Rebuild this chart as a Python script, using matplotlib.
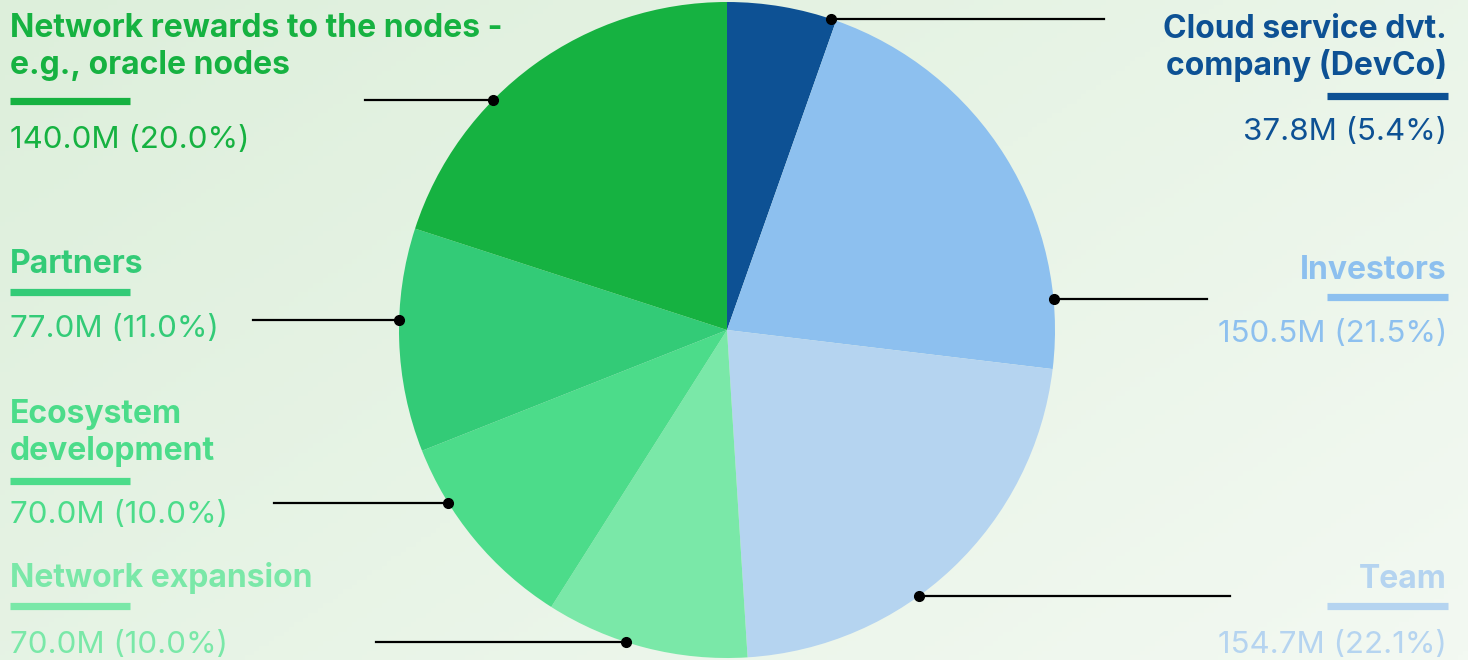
import numpy as np
import matplotlib
matplotlib.use("Agg")
import matplotlib.pyplot as plt
from matplotlib.colors import LinearSegmentedColormap

# token allocation, clockwise from 12 o'clock
labels = ["Cloud service dvt.\ncompany (DevCo)", "Investors", "Team",
          "Network expansion", "Ecosystem\ndevelopment", "Partners",
          "Network rewards to the nodes -\ne.g., oracle nodes"]
amounts = [37.8, 150.5, 154.7, 70.0, 70.0, 77.0, 140.0]   # millions
shares = [5.4, 21.5, 22.1, 10.0, 10.0, 11.0, 20.0]        # percent
colors = ["#0d5194", "#8dc0ef", "#b5d4f0", "#7ae8a8", "#4cdc8a", "#33cb77", "#16b241"]

# label layout (pixels, y from top): side, first title baseline, bar y, value baseline, leader y, leader end x
sides = ["R", "R", "R", "L", "L", "L", "L"]
title_y = [38, 279, 588, 587, 423, 273, 37]
bar_y = [96, 297, 606, 606, 481, 292, 101]
value_y = [140, 342, 653, 653, 523, 337, 148]
leader_y = [19, 299, 596, 642, 503, 320, 100]
leader_x = [1104, 1207, 1230, 376, 274, 253, 365]

W, H = 1468, 660
CX, CY, R = 727, 330, 328

fig = plt.figure(figsize=(W / 100, H / 100), dpi=100)
ax = fig.add_axes([0, 0, 1, 1])
ax.set_xlim(0, W)
ax.set_ylim(H, 0)
ax.axis("off")

# soft diagonal background gradient
gx, gy = np.meshgrid(np.linspace(0, 1, 300), np.linspace(0, 1, 140))
grad = (gx * 0.6 + gy * 0.4)
cmap = LinearSegmentedColormap.from_list("bg", ["#ddefdb", "#f3f9f2"])
ax.imshow(grad, cmap=cmap, extent=[0, W, H, 0], aspect="auto", zorder=0)

# y axis is inverted, so counterclockwise in data = clockwise on screen
ax.pie(amounts, colors=colors, startangle=-90, counterclock=True,
       center=(CX, CY), radius=R, frame=True,
       wedgeprops=dict(linewidth=0, antialiased=True))
ax.set_xlim(0, W)
ax.set_ylim(H, 0)
ax.set_aspect("equal")
ax.axis("off")

for lab, amt, sh, col, side, ty, by, vy, ly, lx in zip(
        labels, amounts, shares, colors, sides, title_y, bar_y, value_y, leader_y, leader_x):
    if side == "L":
        x, ha = 10, "left"
        bx = (10, 130)
        dx = CX - np.sqrt(R ** 2 - (ly - CY) ** 2)
    else:
        x, ha = 1447, "right"
        bx = (1327, 1448)
        dx = CX + np.sqrt(R ** 2 - (ly - CY) ** 2)
    for i, line in enumerate(lab.split("\n")):
        ax.text(x, ty + 37 * i, line, ha=ha, va="baseline", color=col,
                fontsize=23, fontweight="bold", family="Inter")
    ax.plot(bx, (by, by), color=col, lw=5.2, solid_capstyle="butt")
    ax.text(x, vy, f"{amt:.1f}M ({sh:.1f}%)", ha=ha, va="baseline", color=col,
            fontsize=22.5, family="Inter")
    ax.plot((lx, dx), (ly, ly), color="black", lw=1.6, zorder=5)
    ax.plot(dx, ly, "o", color="black", markersize=7, zorder=6)

fig.savefig("out.png", dpi=100)
